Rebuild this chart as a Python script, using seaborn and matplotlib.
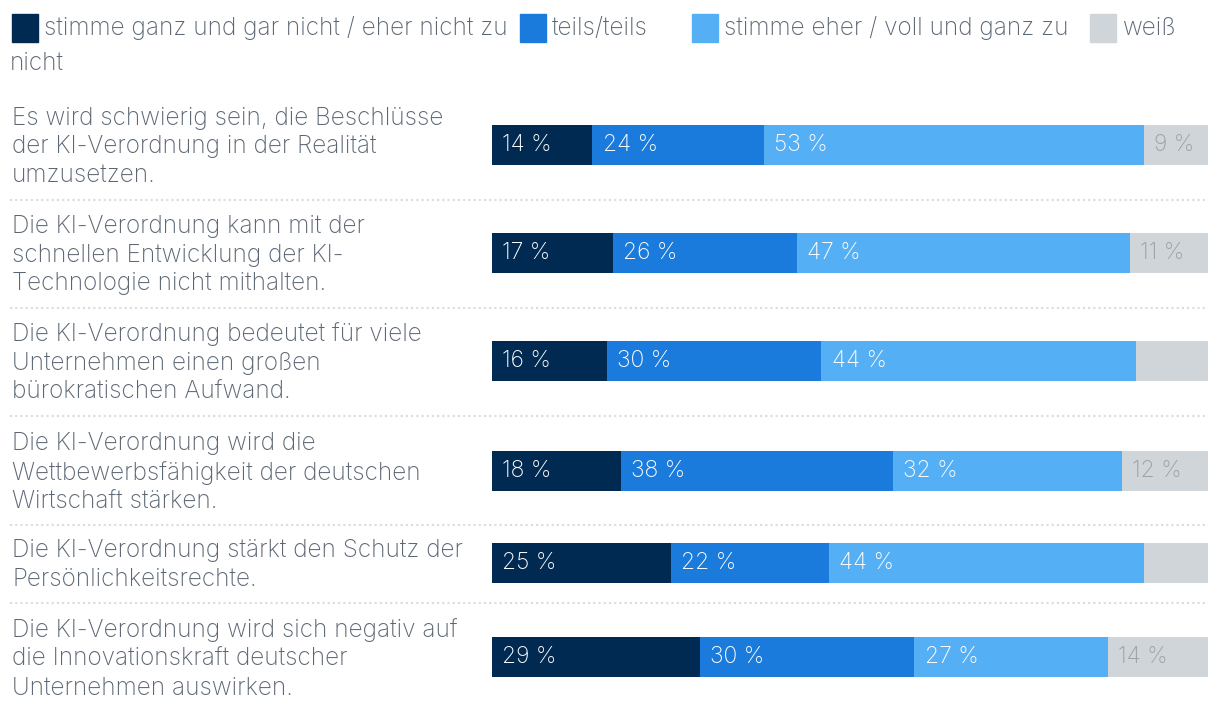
import numpy as np
import pandas as pd
import matplotlib.pyplot as plt
import seaborn as sns
from matplotlib.patches import Rectangle

# Daten
aussagen = [
    "Es wird schwierig sein, die Beschlüsse\nder KI-Verordnung in der Realität\numzusetzen.",
    "Die KI-Verordnung kann mit der\nschnellen Entwicklung der KI-\nTechnologie nicht mithalten.",
    "Die KI-Verordnung bedeutet für viele\nUnternehmen einen großen\nbürokratischen Aufwand.",
    "Die KI-Verordnung wird die\nWettbewerbsfähigkeit der deutschen\nWirtschaft stärken.",
    "Die KI-Verordnung stärkt den Schutz der\nPersönlichkeitsrechte.",
    "Die KI-Verordnung wird sich negativ auf\ndie Innovationskraft deutscher\nUnternehmen auswirken.",
]
kategorien = ["stimme ganz und gar nicht / eher nicht zu", "teils/teils",
              "stimme eher / voll und ganz zu", "weiß"]
nicht_zu = [14, 17, 16, 18, 25, 29]
teils = [24, 26, 30, 38, 22, 30]
eher_zu = [53, 47, 44, 32, 44, 27]
weiss = [9, 11, 10, 12, 9, 14]
weiss_labels = ["9 %", "11 %", "", "12 %", "", "14 %"]

# Layout (Pixel)
W, H = 1220, 714
row_y = [145, 253, 361, 471, 563, 657]
sep_y = [200, 308, 416, 525, 603]
bar_x0, bar_x1 = 492, 1208
farben = ["#012a52", "#1a7bdc", "#55aff5", "#d0d5d9"]
textfarbe = "#5c6774"

plt.rcParams['font.family'] = ['Inter', 'DejaVu Sans']

df = pd.DataFrame({"pos": row_y, "a": nicht_zu, "b": teils, "c": eher_zu, "d": weiss})
total = df[["a", "b", "c", "d"]].sum(axis=1)
for k in ["a", "b", "c", "d"]:
    df[k] = df[k] / total * 100
df["ab"] = df["a"] + df["b"]
df["abc"] = df["ab"] + df["c"]
df["abcd"] = df["abc"] + df["d"]

fig = plt.figure(figsize=(W / 100, H / 100), dpi=100)
ax = fig.add_axes([0, 0, 1, 1])
breite = 40 / np.min(np.diff(row_y))
for spalte, farbe in zip(["abcd", "abc", "ab", "a"], farben[::-1]):
    sns.barplot(data=df, x=spalte, y="pos", orient="y", native_scale=True,
                color=farbe, width=breite, errorbar=None, saturation=1,
                linewidth=0, ax=ax)

px = 100 / (bar_x1 - bar_x0)
ax.set_xlim(-bar_x0 * px, (W - bar_x0) * px)
ax.set_ylim(H, 0)
ax.axis("off")

# Beschriftungen in den Balken
starts = [np.zeros(len(df)), df["a"], df["ab"], df["abc"]]
labels = [[f"{v} %" for v in nicht_zu], [f"{v} %" for v in teils],
          [f"{v} %" for v in eher_zu], weiss_labels]
for i in range(4):
    for j in range(len(df)):
        ax.annotate(labels[i][j], (starts[i][j], row_y[j]), xytext=(7.5, 0),
                    textcoords="offset points", va="center", ha="left",
                    fontsize=16.5, fontweight="light",
                    color="#9aa1aa" if i == 3 else "white")

# Aussagen links
for j, txt in enumerate(aussagen):
    fig.text(12 / W, 1 - (row_y[j] + 2) / H, txt, ha="left", va="center",
             fontsize=17.5, fontweight="light", color=textfarbe, linespacing=1.32)

for y in sep_y:
    ax.axhline(y, xmin=10 / W, xmax=bar_x1 / W, color="#d8dcdf",
               linestyle=(0, (1, 1.5)), linewidth=1.5)

# Legende
leg_x = [12, 520, 692, 1090]
for x, farbe, name in zip(leg_x, farben, kategorien):
    fig.patches.append(Rectangle((x / W, 1 - 42 / H), 26 / W, 28 / H,
                                 transform=fig.transFigure, color=farbe))
    fig.text((x + 32) / W, 1 - 35 / H, name, ha="left", va="baseline",
             fontsize=17.5, fontweight="light", color=textfarbe)
fig.text(10 / W, 1 - 70 / H, "nicht", ha="left", va="baseline",
         fontsize=17.5, fontweight="light", color=textfarbe)

plt.savefig("out.png", dpi=100)
